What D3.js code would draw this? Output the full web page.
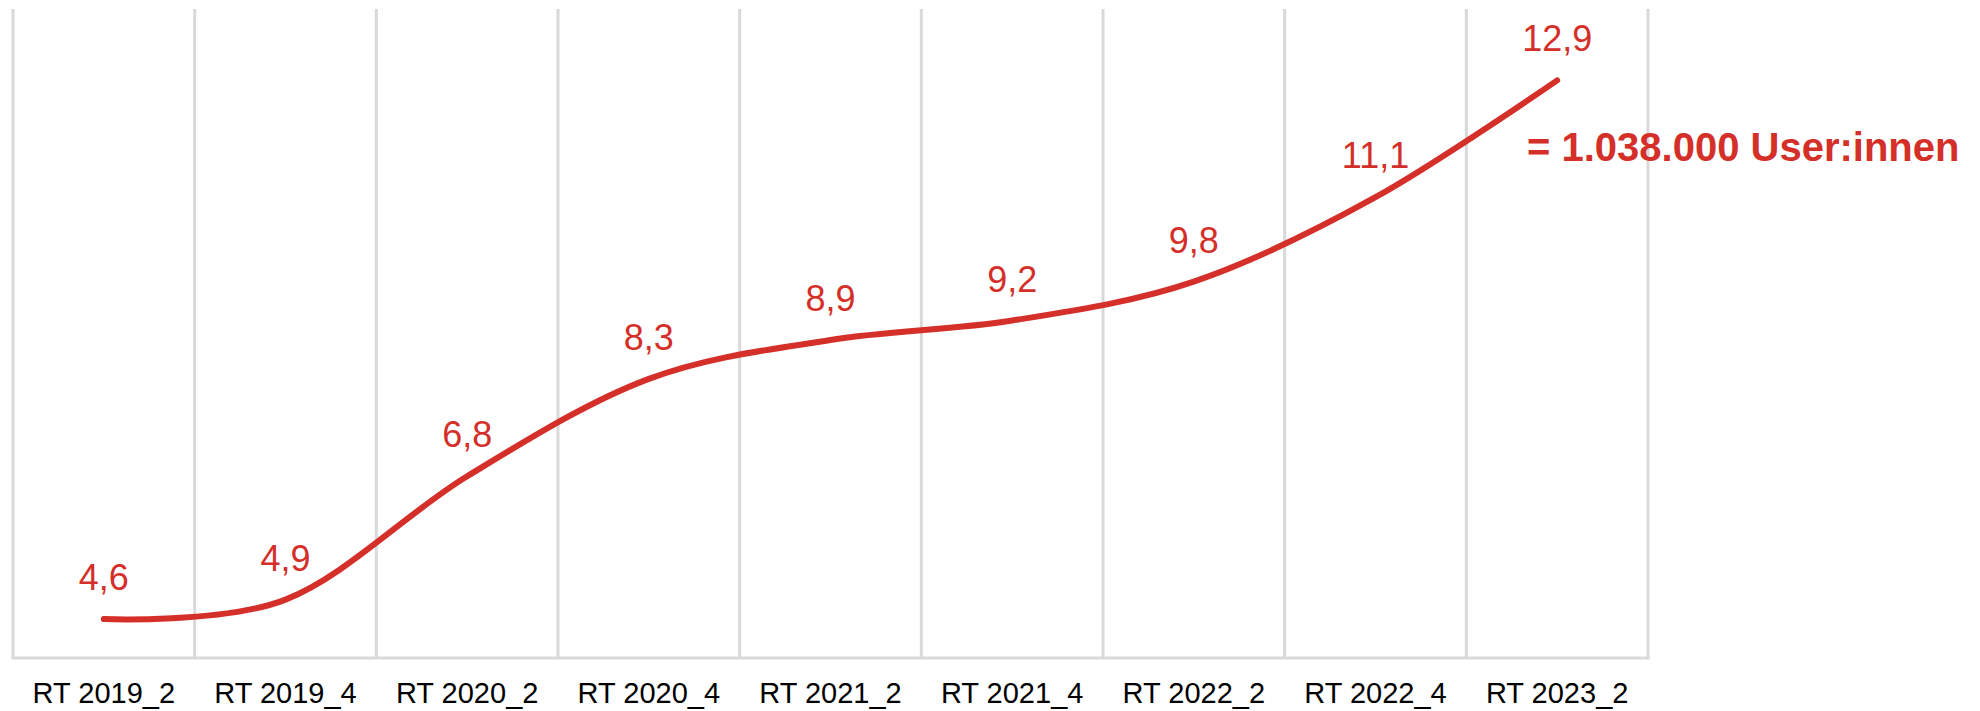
<!DOCTYPE html>
<html>
<head>
<meta charset="utf-8">
<script src="https://cdn.jsdelivr.net/npm/d3@7"></script>
<style>
  html, body { margin: 0; padding: 0; background: #fff; }
  svg { display: block; font-family: 'Liberation Sans', Arial, sans-serif; }
</style>
</head>
<body>
<div id="chart"></div>
<script>
// Chart data
const categories = ['RT 2019_2', 'RT 2019_4', 'RT 2020_2', 'RT 2020_4', 'RT 2021_2',
  'RT 2021_4', 'RT 2022_2', 'RT 2022_4', 'RT 2023_2'];
const values = [4.6, 4.9, 6.8, 8.3, 8.9, 9.2, 9.8, 11.1, 12.9];
const valueLabels = ['4,6', '4,9', '6,8', '8,3', '8,9', '9,2', '9,8', '11,1', '12,9'];
const annotation = '= 1.038.000 User:innen';
const yDomain = [4, 14];

const width = 1980;
const height = 711;
const lineColor = '#d42f29';
const gridColor = '#d9d9d9';

const svg = d3.select('#chart')
  .append('svg')
  .attr('width', width)
  .attr('height', height);

// Scales
const x = d3.scaleBand()
  .domain(categories)
  .range([13, 1648])
  .padding(0);

const y = d3.scaleLinear()
  .domain(yDomain)
  .range([658, 9]);

// Vertical grid lines at category boundaries
const edges = categories.map((c) => x(c)).concat([x.range()[1]]);
svg.append('g')
  .selectAll('line')
  .data(edges)
  .enter()
  .append('line')
  .attr('x1', (d) => d)
  .attr('x2', (d) => d)
  .attr('y1', y.range()[1])
  .attr('y2', y.range()[0])
  .attr('stroke', gridColor)
  .attr('stroke-width', 3);

// Bottom axis line
svg.append('line')
  .attr('x1', x.range()[0] - 1.5)
  .attr('x2', x.range()[1] + 1.5)
  .attr('y1', y.range()[0])
  .attr('y2', y.range()[0])
  .attr('stroke', gridColor)
  .attr('stroke-width', 3);

// Category labels
const xAxis = svg.append('g')
  .attr('transform', `translate(0,${y.range()[0]})`)
  .call(d3.axisBottom(x).tickSize(0));
xAxis.select('.domain').remove();
xAxis.selectAll('text')
  .attr('y', 45)
  .attr('dy', 0)
  .style('font-size', '29px')
  .style('fill', '#000')
  .style('font-family', "'Liberation Sans', Arial, sans-serif");

// Smoothed line
const pts = values.map((v, i) => [x(categories[i]) + x.bandwidth() / 2, y(v)]);
const line = d3.line().curve(d3.curveCatmullRom.alpha(0));

svg.append('path')
  .datum(pts)
  .attr('fill', 'none')
  .attr('stroke', lineColor)
  .attr('stroke-width', 6)
  .attr('stroke-linecap', 'round')
  .attr('d', line);

// Value labels
svg.append('g')
  .selectAll('text')
  .data(pts)
  .enter()
  .append('text')
  .attr('x', (d) => d[0])
  .attr('y', (d) => d[1] - 29)
  .attr('text-anchor', 'middle')
  .style('font-size', '36px')
  .style('fill', lineColor)
  .text((d, i) => valueLabels[i]);

// Annotation next to last point
svg.append('text')
  .attr('x', 1527)
  .attr('y', 161)
  .style('font-size', '40px')
  .style('font-weight', 'bold')
  .style('fill', lineColor)
  .text(annotation);
</script>
</body>
</html>
